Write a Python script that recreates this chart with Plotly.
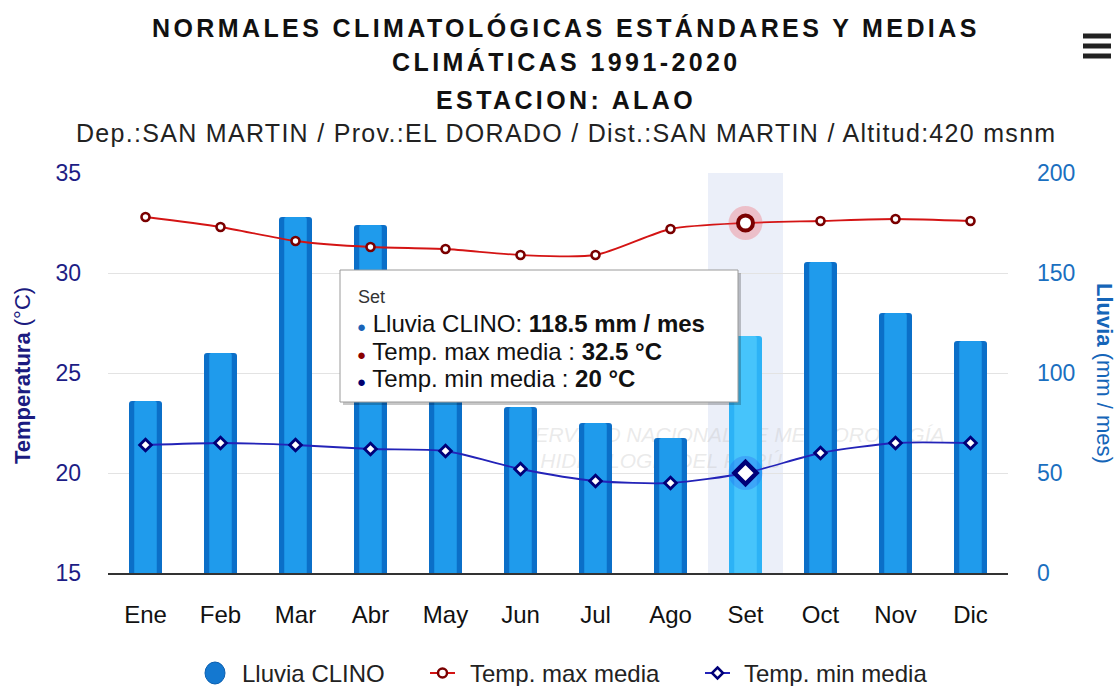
import plotly.graph_objects as go

# Normales climatológicas 1991-2020, estación ALAO
meses = ["Ene", "Feb", "Mar", "Abr", "May", "Jun", "Jul", "Ago", "Set", "Oct", "Nov", "Dic"]
lluvia = [86.0, 110.0, 178.0, 174.0, 87.0, 83.0, 75.0, 67.5, 118.5, 155.5, 130.0, 116.0]
tmax = [32.8, 32.3, 31.6, 31.3, 31.2, 30.9, 30.9, 32.2, 32.5, 32.6, 32.7, 32.6]
tmin = [21.4, 21.5, 21.4, 21.2, 21.1, 20.2, 19.6, 19.5, 20.0, 21.0, 21.5, 21.5]
temp_ticks = [15, 20, 25, 30, 35]
lluvia_ticks = [0, 50, 100, 150, 200]
mes_activo = "Set"

W, H = 1120, 686
L, R, T, B = 108, 1008, 173, 573  # plot box in pixels
FONT = "Liberation Sans, Arial, sans-serif"

C_LLUVIA = "#1478d0"
C_TMAX_LINE, C_TMAX_MK = "#d41414", "#7a0000"
C_TMIN_LINE, C_TMIN_MK = "#2323b8", "#000078"


def px(x):
    return (x - L) / (R - L)


def py(y):
    return (B - y) / (B - T)


k = meses.index(mes_activo)

fig = go.Figure()

# faint watermark behind the columns
fig.add_trace(go.Scatter(
    x=["Jun", "Jun"], y=[21.8, 20.5], mode="text",
    text=["SERVICIO NACIONAL DE METEOROLOGÍA", "E HIDROLOGÍA DEL PERÚ"],
    textposition="middle right",
    textfont=dict(family=FONT, size=21, color="rgba(195,195,195,0.35)", style="italic"),
    hoverinfo="skip", showlegend=False, xaxis="x", yaxis="y",
))

# rainfall columns (two overlaid widths give a shaded look)
outer = ["#2cb2f6" if m == mes_activo else "#0b6fc8" for m in meses]
inner = ["#46c4fb" if m == mes_activo else "#1f9bec" for m in meses]
fig.add_trace(go.Bar(
    x=meses, y=lluvia, width=0.44, yaxis="y2", name="Lluvia CLINO",
    marker=dict(color=outer, line=dict(width=0), cornerradius=3),
))
fig.add_trace(go.Bar(
    x=meses, y=lluvia, width=0.30, yaxis="y2", name="Lluvia CLINO",
    marker=dict(color=inner, line=dict(width=0), cornerradius=2),
))

# temperature lines
fig.add_trace(go.Scatter(
    x=meses, y=tmax, yaxis="y3", mode="lines+markers", name="Temp. max media",
    line=dict(color=C_TMAX_LINE, width=1.8, shape="spline", smoothing=0.7),
    marker=dict(symbol="circle", size=8, color="white", line=dict(color=C_TMAX_MK, width=2.6)),
))
fig.add_trace(go.Scatter(
    x=meses, y=tmin, yaxis="y3", mode="lines+markers", name="Temp. min media",
    line=dict(color=C_TMIN_LINE, width=1.8, shape="spline", smoothing=0.7),
    marker=dict(symbol="diamond", size=9, color="white", line=dict(color=C_TMIN_MK, width=2.8)),
))

# highlighted month: halo + enlarged markers
fig.add_trace(go.Scatter(
    x=[mes_activo], y=[tmax[k]], yaxis="y3", mode="markers",
    marker=dict(symbol="circle", size=34, color="rgba(240,70,80,0.28)", line=dict(width=0)),
))
fig.add_trace(go.Scatter(
    x=[mes_activo], y=[tmax[k]], yaxis="y3", mode="markers",
    marker=dict(symbol="circle", size=15, color="white", line=dict(color=C_TMAX_MK, width=4)),
))
fig.add_trace(go.Scatter(
    x=[mes_activo], y=[tmin[k]], yaxis="y3", mode="markers",
    marker=dict(symbol="circle", size=34, color="rgba(40,90,240,0.28)", line=dict(width=0)),
))
fig.add_trace(go.Scatter(
    x=[mes_activo], y=[tmin[k]], yaxis="y3", mode="markers",
    marker=dict(symbol="diamond", size=17, color="white", line=dict(color=C_TMIN_MK, width=4.5)),
))

shapes = []
ann = []
# crosshair band for the active month
shapes.append(dict(type="rect", xref="x", yref="paper", x0=k - 0.5, x1=k + 0.5, y0=0, y1=1,
                   fillcolor="rgba(204,214,240,0.4)", line=dict(width=0), layer="below"))
# tooltip box with shadow
tx0, ty0, tx1, ty1 = 340, 270, 738, 402
shapes.append(dict(type="rect", xref="paper", yref="paper",
                   x0=px(tx0 + 3), x1=px(tx1 + 3), y0=py(ty1 + 3), y1=py(ty0 + 3),
                   fillcolor="rgba(0,0,0,0.22)", line=dict(width=0), layer="above"))
shapes.append(dict(type="rect", xref="paper", yref="paper",
                   x0=px(tx0), x1=px(tx1), y0=py(ty1), y1=py(ty0),
                   fillcolor="white", line=dict(color="#9a9a9a", width=1), layer="above"))
# menu icon
for yy in (36, 46, 56):
    shapes.append(dict(type="line", xref="paper", yref="paper",
                       x0=px(1083), x1=px(1111), y0=py(yy), y1=py(yy),
                       line=dict(color="#222", width=5)))

# legend, drawn by hand
ly = 673
shapes.append(dict(type="circle", xref="paper", yref="paper",
                   x0=px(205), x1=px(225), y0=py(ly + 11), y1=py(ly - 11),
                   fillcolor=C_LLUVIA, line=dict(color="#0b5fb0", width=1)))
shapes.append(dict(type="line", xref="paper", yref="paper", x0=px(430), x1=px(455),
                   y0=py(ly), y1=py(ly), line=dict(color=C_TMAX_LINE, width=2)))
shapes.append(dict(type="circle", xref="paper", yref="paper",
                   x0=px(438), x1=px(447), y0=py(ly + 4.5), y1=py(ly - 4.5),
                   fillcolor="white", line=dict(color=C_TMAX_MK, width=2.5)))
shapes.append(dict(type="line", xref="paper", yref="paper", x0=px(705), x1=px(730),
                   y0=py(ly), y1=py(ly), line=dict(color=C_TMIN_LINE, width=2)))
cx, d = 717.5, 5.5
diamond = (f"M {px(cx)},{py(ly - d)} L {px(cx + d)},{py(ly)} "
           f"L {px(cx)},{py(ly + d)} L {px(cx - d)},{py(ly)} Z")
shapes.append(dict(type="path", xref="paper", yref="paper", path=diamond,
                   fillcolor="white", line=dict(color=C_TMIN_MK, width=2.5)))
for txt, xx in (("Lluvia CLINO", 240), ("Temp. max media", 468), ("Temp. min media", 742)):
    ann.append(dict(x=px(xx), y=py(ly), xref="paper", yref="paper", showarrow=False,
                    xanchor="left", yanchor="middle", text=txt,
                    font=dict(family=FONT, size=24, color="#222")))

# titles
title_lines = [
    ("NORMALES CLIMATOLÓGICAS ESTÁNDARES Y MEDIAS", 28),
    ("CLIMÁTICAS 1991-2020", 62),
    ("ESTACION: ALAO", 100),
]
for txt, yy in title_lines:
    ann.append(dict(x=px(566), y=py(yy), xref="paper", yref="paper", showarrow=False,
                    xanchor="center", yanchor="middle",
                    text=f"<span style='letter-spacing:3.4px'><b>{txt}</b></span>",
                    font=dict(family=FONT, size=25, color="#111")))
ann.append(dict(x=px(566), y=py(133), xref="paper", yref="paper", showarrow=False,
                xanchor="center", yanchor="middle",
                text="<span style='letter-spacing:1.3px'>Dep.:SAN MARTIN / Prov.:EL DORADO / "
                     "Dist.:SAN MARTIN / Altitud:420 msnm</span>",
                font=dict(family=FONT, size=25, color="#222")))

# axis titles
ann.append(dict(x=px(22), y=py(376), xref="paper", yref="paper", showarrow=False, textangle=-90,
                xanchor="center", yanchor="middle", text="<b>Temperatura</b> (°C)",
                font=dict(family=FONT, size=22, color="#1b1b80")))
ann.append(dict(x=px(1105), y=py(373), xref="paper", yref="paper", showarrow=False, textangle=90,
                xanchor="center", yanchor="middle", text="<b>Lluvia</b> (mm / mes)",
                font=dict(family=FONT, size=22, color="#1565b8")))

# tooltip contents
ann.append(dict(x=px(356), y=py(297), xref="paper", yref="paper", showarrow=False,
                xanchor="left", yanchor="middle", text=mes_activo,
                font=dict(family=FONT, size=18, color="#333")))
tip_rows = [
    ("#1a63b8", "Lluvia CLINO: ", f"{lluvia[k]:g} mm / mes", 323),
    ("#8a0000", "Temp. max media : ", f"{tmax[k]:g} °C", 351),
    ("#000070", "Temp. min media : ", f"{tmin[k]:g} °C", 378),
]
for col, lab, val, yy in tip_rows:
    ann.append(dict(x=px(355), y=py(yy), xref="paper", yref="paper", showarrow=False,
                    xanchor="left", yanchor="middle",
                    text=f"<span style='color:{col};font-size:15px'>●</span> {lab}<b>{val}</b>",
                    font=dict(family=FONT, size=24, color="#111")))

fig.update_layout(
    width=W, height=H,
    margin=dict(l=L, r=W - R, t=T, b=H - B, pad=0, autoexpand=False),
    paper_bgcolor="white", plot_bgcolor="white",
    barmode="overlay", showlegend=False,
    font=dict(family=FONT, size=22, color="#111"),
    xaxis=dict(type="category", categoryorder="array", categoryarray=meses,
               showgrid=False, showline=True, linecolor="#333", linewidth=2,
               ticks="", tickfont=dict(size=24, color="#111"), ticklabelstandoff=19,
               range=[-0.5, len(meses) - 0.5], fixedrange=True),
    yaxis=dict(range=[temp_ticks[0], temp_ticks[-1]], tickvals=temp_ticks, side="left",
               showgrid=True, gridcolor="#e3e3e3", gridwidth=1, zeroline=False,
               tickfont=dict(size=23, color="#1d1d85"), ticklabelstandoff=26, fixedrange=True),
    yaxis2=dict(range=[lluvia_ticks[0], lluvia_ticks[-1]], tickvals=lluvia_ticks, side="right",
                overlaying="y", showgrid=False, zeroline=False,
                tickfont=dict(size=23, color="#1a6fc0"), ticklabelstandoff=28, fixedrange=True),
    yaxis3=dict(range=[temp_ticks[0], temp_ticks[-1]], overlaying="y", visible=False,
                fixedrange=True),
    shapes=shapes, annotations=ann,
    hovermode=False,
)

fig.write_html("out.html")
